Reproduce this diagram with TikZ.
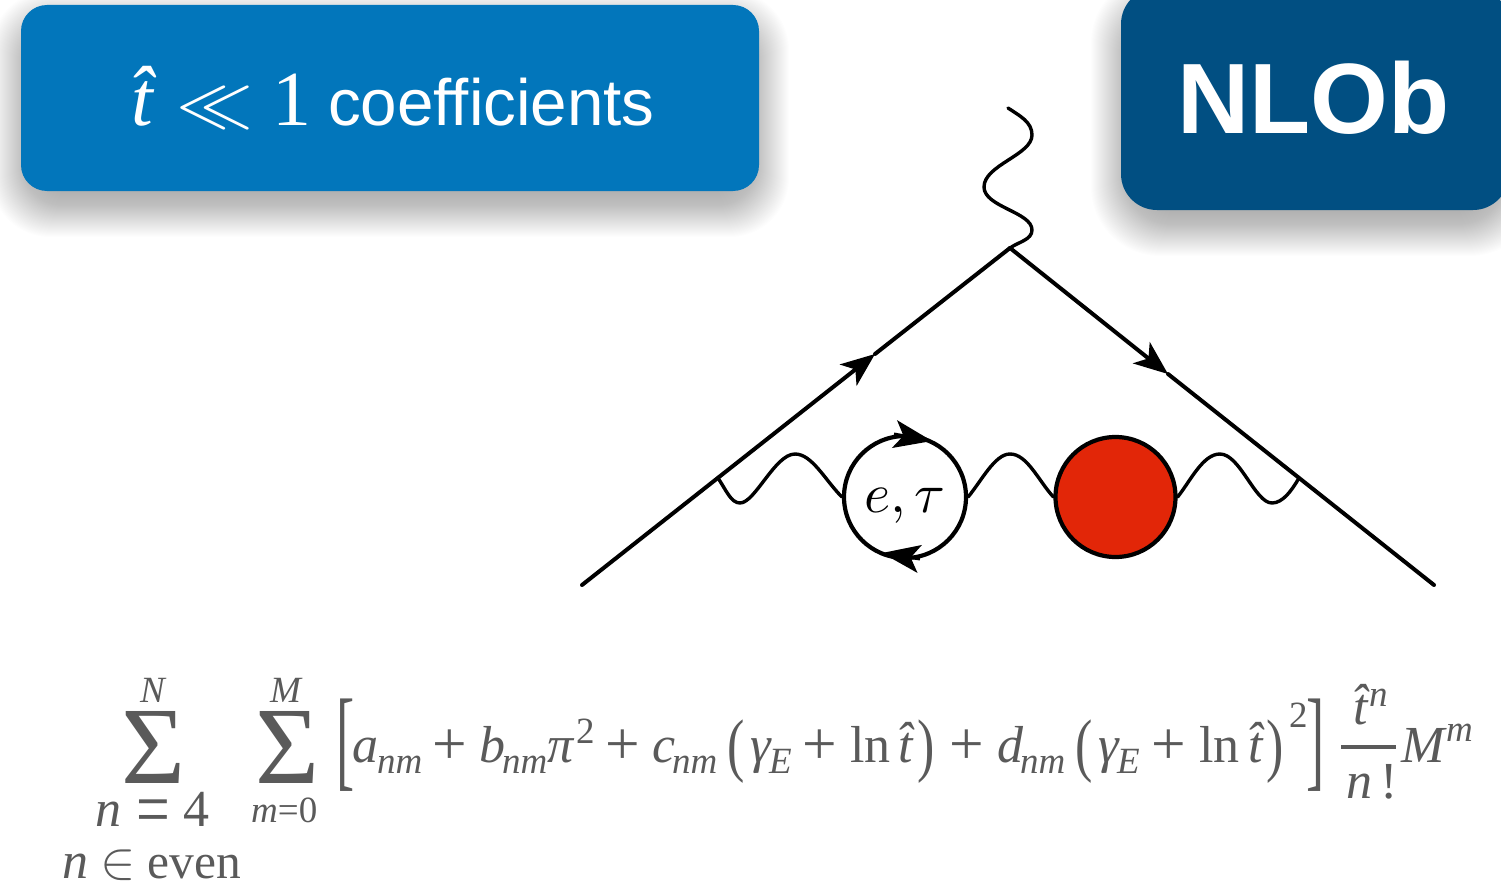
\documentclass[tikz,border=0pt]{standalone}
\usepackage{fontspec}
\usepackage{graphicx}
\setmainfont{Liberation Serif}
\newfontfamily\hsans{Liberation Sans}[Ligatures=NoCommon]
\usetikzlibrary{arrows.meta}
\definecolor{boxa}{RGB}{2,118,187}
\definecolor{boxb}{RGB}{1,79,130}
\definecolor{fred}{RGB}{226,38,8}
\definecolor{fgrey}{RGB}{90,90,90}
\tikzset{
  fml/.style={anchor=base west,inner sep=0pt,text=fgrey},
  mainit/.style={fml,font=\fontsize{52}{52}\selectfont\itshape},
  mainup/.style={fml,font=\fontsize{52}{52}\selectfont},
  subit/.style={fml,font=\fontsize{37}{37}\selectfont\itshape},
  subup/.style={fml,font=\fontsize{37}{37}\selectfont},
  sigmasym/.style={fml,font=\fontsize{110}{110}\selectfont},
  feyn/.style={line width=4pt,line cap=round},
  wig/.style={line width=3.4pt,line cap=round},
  arrowline/.style={feyn,-{Stealth[length=34pt,width=27pt,inset=9pt]}},
  looparrow/.style={line width=3pt,-{Stealth[length=38pt,width=28pt,inset=9pt]}},
}
\newcommand{\softshadow}[5]{% x1,y1,x2,y2,radius
  \foreach \g in {-16,-15,...,30}{
    \fill[black,opacity=.0085,rounded corners={#5+\g*0.6+16pt}]
      ({#1-\g},{#2+16-\g}) rectangle ({#3+\g},{#4+16+\g});
  }
}
\newcommand{\bplus}{\raisebox{-2.5pt}{\scalebox{1.18}{+}}}
\begin{document}
\begin{tikzpicture}[x=1pt,y=-1pt]
\useasboundingbox (0,0) rectangle (1501,888);
\begin{scope}
\clip (0,0) rectangle (1501,888);
% boxes
\softshadow{21}{5}{759}{191}{25}
\softshadow{1121}{-12}{1509}{210}{35}
\fill[boxa,rounded corners=26pt] (21,5) rectangle (759,191);
\fill[boxb,rounded corners=36pt] (1121,-12) rectangle (1509,210);
\end{scope}
\node[anchor=base west,inner sep=0pt,text=white,font=\fontsize{78}{78}\selectfont] (hatt) at (131,126) {\itshape\^{t}};
\node[anchor=base west,inner sep=0pt,text=white] (ll) at (176,126) {\scalebox{7.7}[7]{$\ll$}};
\node[anchor=base west,inner sep=0pt,text=white,font=\fontsize{78}{78}\selectfont] (one) at (272,126) {1};
\node[anchor=base west,inner sep=0pt,text=white,font=\fontsize{65.5}{65}\selectfont\hsans] (coef) at (328,126) {coefficients};
\node[anchor=base west,inner sep=0pt,text=white,font=\fontsize{100}{100}\selectfont\hsans\bfseries] (nlob) at (1177,134) {NLOb};
% Feynman diagram
\coordinate (vtop) at (1010,248);
\coordinate (inq) at (582,585);
\coordinate (outq) at (1434,585);
\coordinate (tipl) at (875,354);
\coordinate (tipr) at (1168,374);
\coordinate (vl) at (718,478);
\coordinate (vr) at (1299,478);
\coordinate (phend) at (1008,108);
\draw[arrowline] (inq) -- (tipl);
\draw[feyn] (tipl) -- (vtop);
\draw[arrowline] (vtop) -- (tipr);
\draw[feyn] (tipr) -- (outq);
\draw[wig] (phend) .. controls (1020,116) and (1032,122) .. (1032,135)
  .. controls (1032,155) and (984,165) .. (984,187)
  .. controls (984,207) and (1032,212) .. (1032,230)
  .. controls (1032,240) and (1018,242) .. (vtop);
\node[circle,draw=black,line width=4.2pt,minimum size=122pt,inner sep=0pt,fill=white] (loop) at (905,497) {};
\node[anchor=base,inner sep=0pt] (looplab) at (905,512) {\scalebox{5.6}{$e,\tau$}};
\node[circle,draw=black,line width=4.2pt,minimum size=120pt,inner sep=0pt,fill=fred] (blob) at (1115.5,497) {};
\draw[wig] (vl) .. controls (726,490) and (731,503) .. (740,503)
  .. controls (755,503) and (775,454) .. (795,454)
  .. controls (812,454) and (825,480) .. (loop.west);
\draw[wig] (loop.east) .. controls (982,480) and (995,454) .. (1010,454)
  .. controls (1027,454) and (1038,480) .. (blob.west);
\draw[wig] (blob.east) .. controls (1191,480) and (1203,454) .. (1220,454)
  .. controls (1240,454) and (1255,503) .. (1272,503)
  .. controls (1283,503) and (1292,490) .. (vr);
\coordinate (lat) at (894,434);
\coordinate (lah) at (932,441);
\coordinate (lbt) at (920,559);
\coordinate (lbh) at (882,553);
\draw[looparrow] (lat) -- (lah);
\draw[looparrow] (lbt) -- (lbh);
% formula
\node[sigmasym] (s1) at (121,783) {Σ};
\node[sigmasym] (s2) at (255,783) {Σ};
\node[subit] (sN) at (140,702) {N};
\node[subit] (sM) at (270,702) {M};
\node[mainit] (lim1) at (95,826) {n\hspace{15pt}\upshape\raisebox{-9pt}{\scalebox{1.15}[1.5]{=}}\hspace{14pt}4};
\node[subit] (lim2) at (251,822) {m\upshape =0};
\node[mainit] (lim3) at (62,878) {n\hspace{12pt}\upshape\scalebox{5.3}{\fontsize{10}{12}\selectfont$\in$}\hspace{12pt}\fontsize{49.5}{50}\selectfont even};
\node[fml,font=\fontsize{52}{52}\selectfont] (lb) at (336,776) {\scalebox{1.05}[2.15]{[}};
\node[mainit] (a) at (352,762) {a};
\node[subit] (an) at (377,773) {nm};
\node[mainup] (p1) at (432,762) {\bplus};
\node[mainit] (b) at (479,762) {b};
\node[subit] (bn) at (502,773) {nm};
\node[mainit] (pi) at (547,762) {π};
\node[subup] (pi2) at (576,743) {2};
\node[mainup] (p2) at (605,762) {\bplus};
\node[mainit] (c) at (652,762) {c};
\node[subit] (cn) at (672,773) {nm};
\node[mainup] (o1) at (727,768) {\scalebox{1}[1.35]{(}};
\node[mainit] (g1) at (750,762) {γ};
\node[subit] (e1) at (769,773) {E};
\node[mainup] (p3) at (802,762) {\bplus};
\node[mainup] (ln1) at (850,762) {ln};
\node[mainit] (t1) at (898,762) {\^{t}};
\node[mainup] (c1) at (917,768) {\scalebox{1}[1.35]{)}};
\node[mainup] (p4) at (949,762) {\bplus};
\node[mainit] (d) at (997,762) {d};
\node[subit] (dn) at (1020,773) {nm};
\node[mainup] (o2) at (1075,768) {\scalebox{1}[1.35]{(}};
\node[mainit] (g2) at (1098,762) {γ};
\node[subit] (e2) at (1117,773) {E};
\node[mainup] (p5) at (1151,762) {\bplus};
\node[mainup] (ln2) at (1199,762) {ln};
\node[mainit] (t2) at (1248,762) {\^{t}};
\node[mainup] (c2) at (1266,768) {\scalebox{1}[1.35]{)}};
\node[subup] (sq) at (1289,727) {2};
\node[fml,font=\fontsize{52}{52}\selectfont] (rb) at (1306,776) {\scalebox{1.05}[2.15]{]}};
\node[mainit] (tn) at (1353,724) {\^{t}};
\node[subit] (tnn) at (1369,706) {n};
\coordinate (fa) at (1341,747);
\coordinate (fb) at (1396,747);
\draw[fgrey,line width=3.4pt] (fa) -- (fb);
\node[mainit] (nf) at (1346,798) {n\upshape\,!};
\node[mainit] (M) at (1401,762) {M};
\node[subit] (Mm) at (1446,741) {m};
\end{tikzpicture}
\end{document}
